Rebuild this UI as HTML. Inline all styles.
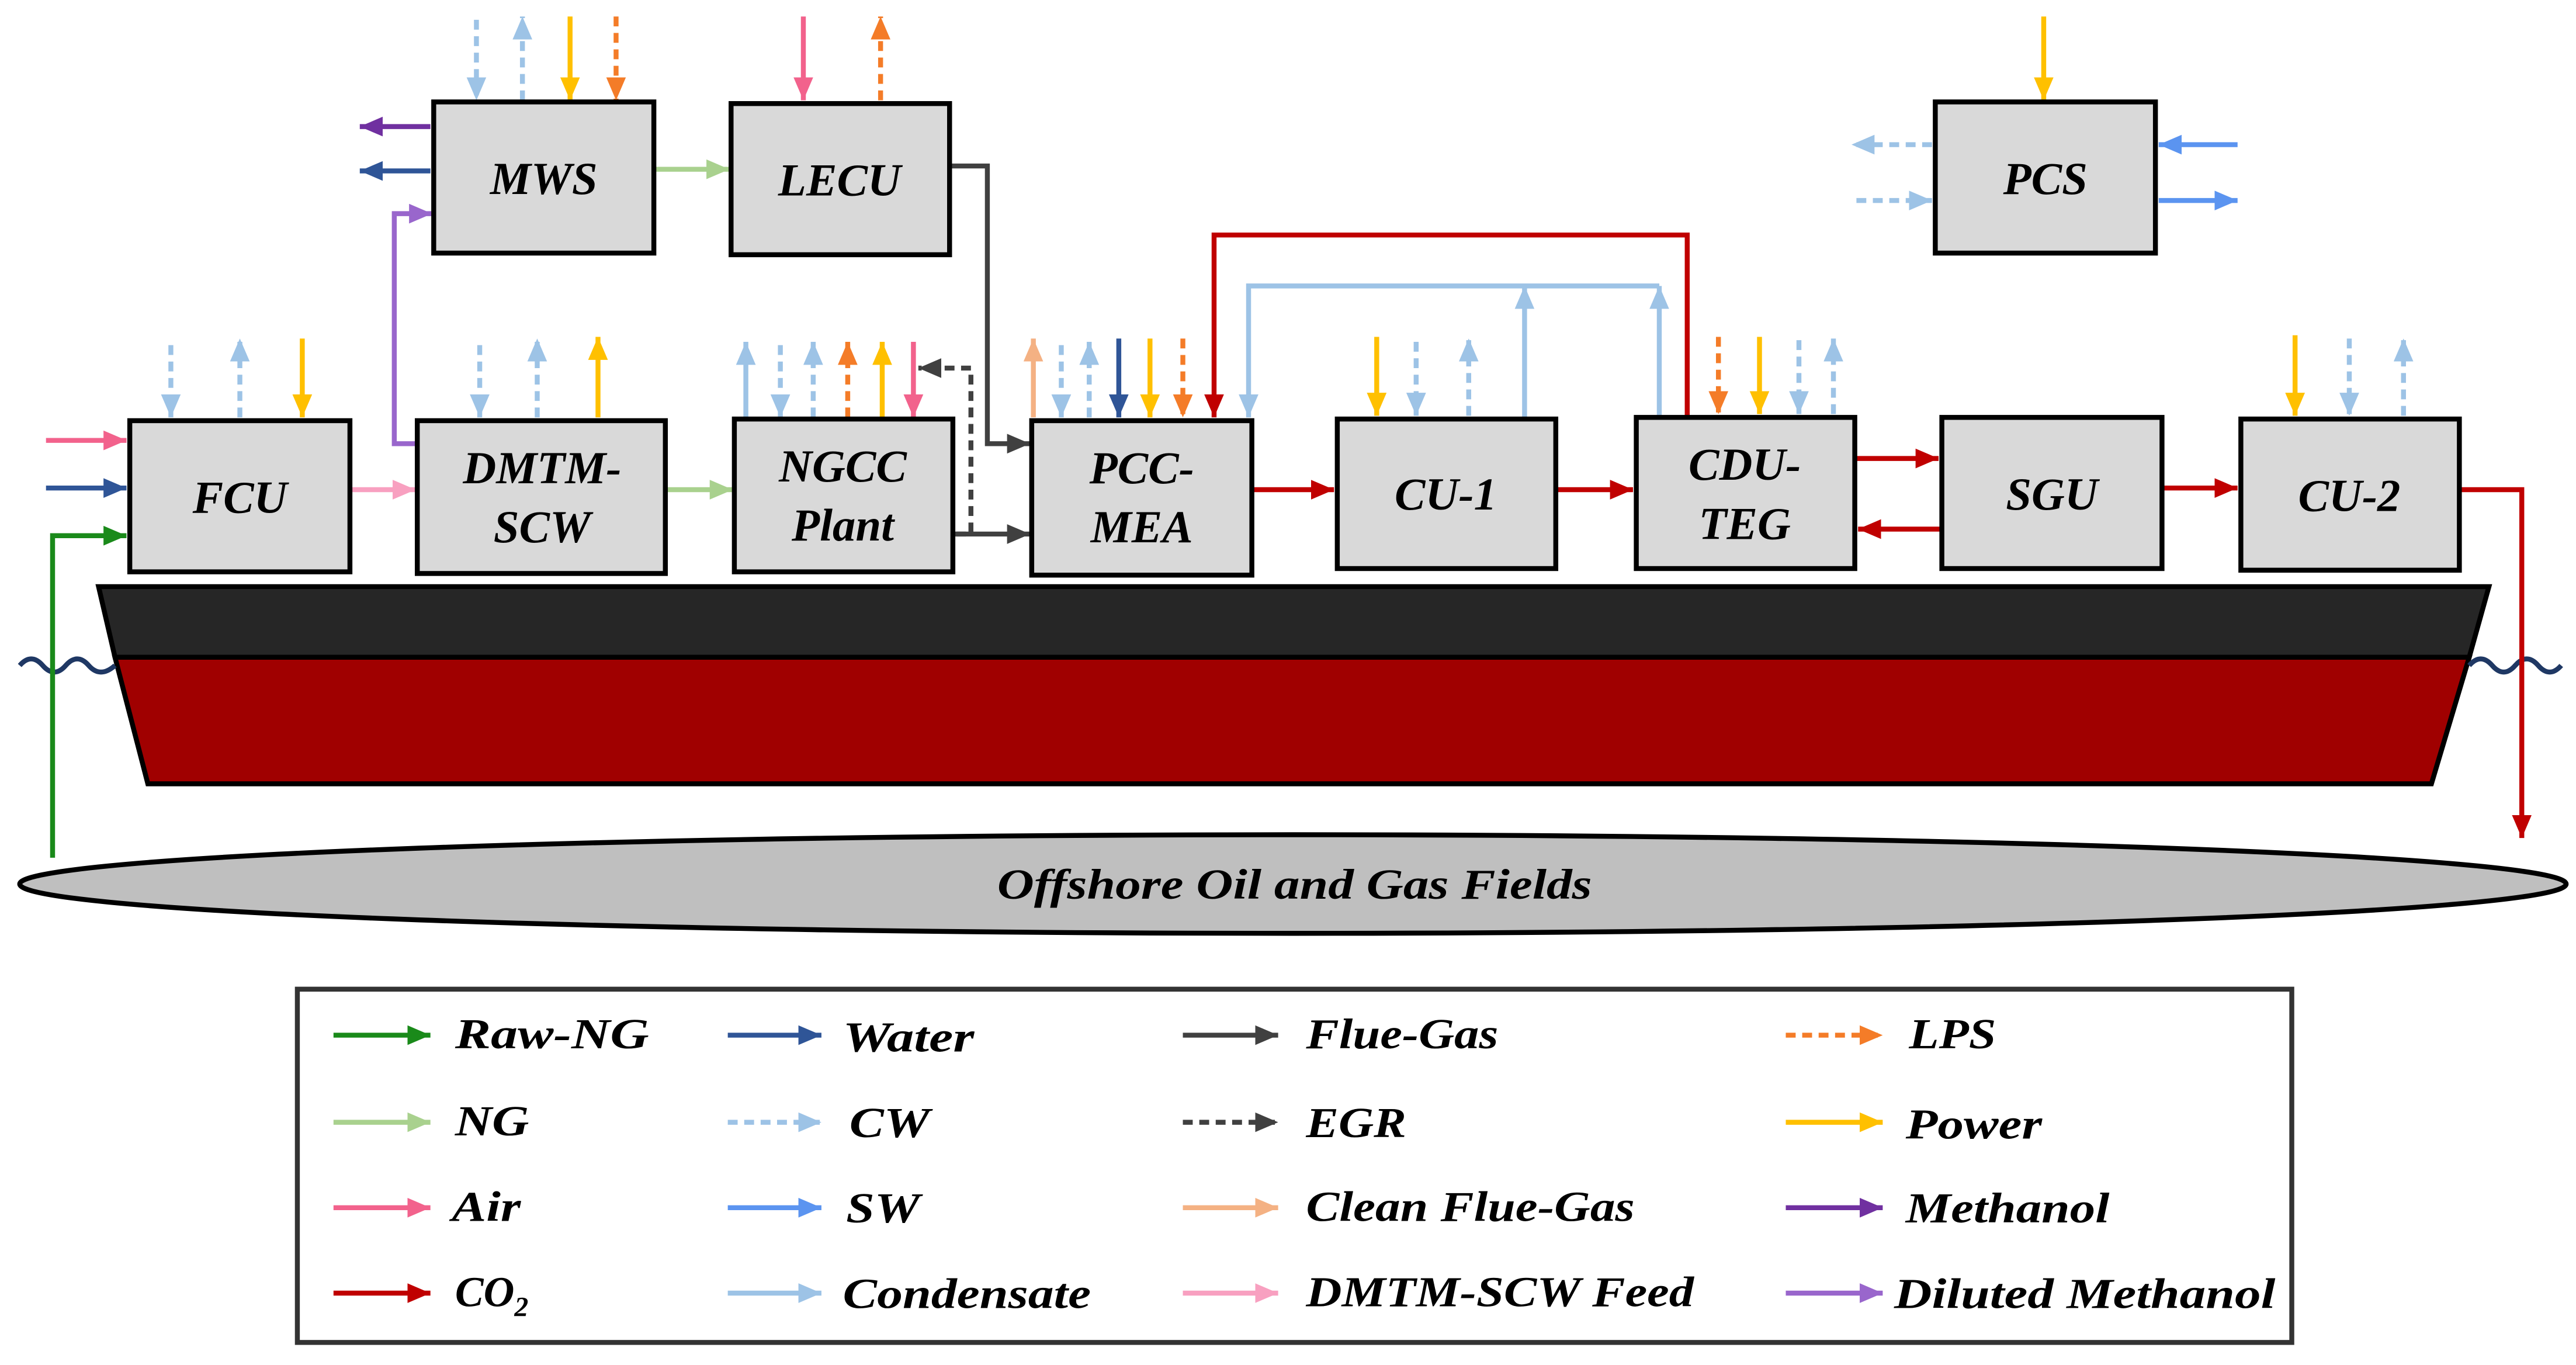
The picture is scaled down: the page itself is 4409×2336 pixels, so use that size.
<!DOCTYPE html>
<html><head><meta charset="utf-8"><style>
html,body{margin:0;padding:0;background:#fff}
svg{display:block}
text{font-family:"Liberation Serif",serif;font-style:italic;font-weight:bold}
.lg text{font-weight:bold}
</style></head><body>
<svg width="4409" height="2336" viewBox="0 0 1568 830.7" xmlns="http://www.w3.org/2000/svg">
<defs>
<marker id="g" viewBox="0 0 14 12" markerWidth="14" markerHeight="12" refX="14" refY="6" orient="auto" markerUnits="userSpaceOnUse"><path d="M0,0L14,6L0,12z" fill="#1a8a1a"/></marker>
<marker id="w" viewBox="0 0 14 12" markerWidth="14" markerHeight="12" refX="14" refY="6" orient="auto" markerUnits="userSpaceOnUse"><path d="M0,0L14,6L0,12z" fill="#2f5597"/></marker>
<marker id="ng" viewBox="0 0 14 12" markerWidth="14" markerHeight="12" refX="14" refY="6" orient="auto" markerUnits="userSpaceOnUse"><path d="M0,0L14,6L0,12z" fill="#a9d18e"/></marker>
<marker id="cw" viewBox="0 0 14 12" markerWidth="14" markerHeight="12" refX="14" refY="6" orient="auto" markerUnits="userSpaceOnUse"><path d="M0,0L14,6L0,12z" fill="#9dc3e6"/></marker>
<marker id="sw" viewBox="0 0 14 12" markerWidth="14" markerHeight="12" refX="14" refY="6" orient="auto" markerUnits="userSpaceOnUse"><path d="M0,0L14,6L0,12z" fill="#5b94f0"/></marker>
<marker id="air" viewBox="0 0 14 12" markerWidth="14" markerHeight="12" refX="14" refY="6" orient="auto" markerUnits="userSpaceOnUse"><path d="M0,0L14,6L0,12z" fill="#f2628c"/></marker>
<marker id="co" viewBox="0 0 14 12" markerWidth="14" markerHeight="12" refX="14" refY="6" orient="auto" markerUnits="userSpaceOnUse"><path d="M0,0L14,6L0,12z" fill="#c00000"/></marker>
<marker id="fg" viewBox="0 0 14 12" markerWidth="14" markerHeight="12" refX="14" refY="6" orient="auto" markerUnits="userSpaceOnUse"><path d="M0,0L14,6L0,12z" fill="#404040"/></marker>
<marker id="cf" viewBox="0 0 14 12" markerWidth="14" markerHeight="12" refX="14" refY="6" orient="auto" markerUnits="userSpaceOnUse"><path d="M0,0L14,6L0,12z" fill="#f4b183"/></marker>
<marker id="df" viewBox="0 0 14 12" markerWidth="14" markerHeight="12" refX="14" refY="6" orient="auto" markerUnits="userSpaceOnUse"><path d="M0,0L14,6L0,12z" fill="#f8a0c0"/></marker>
<marker id="lps" viewBox="0 0 14 12" markerWidth="14" markerHeight="12" refX="14" refY="6" orient="auto" markerUnits="userSpaceOnUse"><path d="M0,0L14,6L0,12z" fill="#f47c28"/></marker>
<marker id="pw" viewBox="0 0 14 12" markerWidth="14" markerHeight="12" refX="14" refY="6" orient="auto" markerUnits="userSpaceOnUse"><path d="M0,0L14,6L0,12z" fill="#ffc000"/></marker>
<marker id="me" viewBox="0 0 14 12" markerWidth="14" markerHeight="12" refX="14" refY="6" orient="auto" markerUnits="userSpaceOnUse"><path d="M0,0L14,6L0,12z" fill="#7030a0"/></marker>
<marker id="dm" viewBox="0 0 14 12" markerWidth="14" markerHeight="12" refX="14" refY="6" orient="auto" markerUnits="userSpaceOnUse"><path d="M0,0L14,6L0,12z" fill="#9966cc"/></marker>
</defs>

<polygon points="60,357 1515,357 1503,400 70,400" fill="#262626" stroke="#000" stroke-width="3"/>
<polygon points="70,400 1503,400 1480,477 90,477" fill="#a00000" stroke="#000" stroke-width="3"/>
<path d="M12,405 q7,-8 14,0 t14,0 t14,0 t16,0" fill="none" stroke="#1f3864" stroke-width="3"/>
<path d="M1503,405 q7,-8 14,0 t14,0 t14,0 t14,0" fill="none" stroke="#1f3864" stroke-width="3"/>
<ellipse cx="787" cy="538" rx="775" ry="30" fill="#bfbfbf" stroke="#000" stroke-width="3"/>
<text x="607" y="547" font-size="26" textLength="362" lengthAdjust="spacingAndGlyphs">Offshore Oil and Gas Fields</text>

<g fill="none" stroke-width="3">
<line x1="104" y1="210" x2="104" y2="254" stroke="#9dc3e6" stroke-dasharray="6,4" marker-end="url(#cw)"/>
<line x1="146" y1="254" x2="146" y2="206" stroke="#9dc3e6" stroke-dasharray="6,4" marker-end="url(#cw)"/>
<line x1="184" y1="206" x2="184" y2="254" stroke="#ffc000" marker-end="url(#pw)"/>
<line x1="28" y1="268" x2="77" y2="268" stroke="#f2628c" marker-end="url(#air)"/>
<line x1="28" y1="297" x2="77" y2="297" stroke="#2f5597" marker-end="url(#w)"/>
<path d="M32,522 V326 H77" stroke="#1a8a1a" marker-end="url(#g)"/>
<line x1="213" y1="298" x2="253" y2="298" stroke="#f8a0c0" marker-end="url(#df)"/>
<line x1="292" y1="210" x2="292" y2="254" stroke="#9dc3e6" stroke-dasharray="6,4" marker-end="url(#cw)"/>
<line x1="327" y1="254" x2="327" y2="206" stroke="#9dc3e6" stroke-dasharray="6,4" marker-end="url(#cw)"/>
<line x1="364" y1="254" x2="364" y2="205" stroke="#ffc000" marker-end="url(#pw)"/>
<path d="M254,270 H240 V130 H263" stroke="#9966cc" marker-end="url(#dm)"/>
<line x1="405" y1="298" x2="446" y2="298" stroke="#a9d18e" marker-end="url(#ng)"/>
<line x1="290" y1="12" x2="290" y2="61" stroke="#9dc3e6" stroke-dasharray="6,4" marker-end="url(#cw)"/>
<line x1="318" y1="61" x2="318" y2="10" stroke="#9dc3e6" stroke-dasharray="6,4" marker-end="url(#cw)"/>
<line x1="347" y1="10" x2="347" y2="61" stroke="#ffc000" marker-end="url(#pw)"/>
<line x1="375" y1="10" x2="375" y2="61" stroke="#f47c28" stroke-dasharray="6,4" marker-end="url(#lps)"/>
<line x1="262" y1="77" x2="219" y2="77" stroke="#7030a0" marker-end="url(#me)"/>
<line x1="262" y1="104" x2="219" y2="104" stroke="#2f5597" marker-end="url(#w)"/>
<line x1="398" y1="103" x2="444" y2="103" stroke="#a9d18e" marker-end="url(#ng)"/>
<line x1="489" y1="10" x2="489" y2="61" stroke="#f2628c" marker-end="url(#air)"/>
<line x1="536" y1="61" x2="536" y2="10" stroke="#f47c28" stroke-dasharray="6,4" marker-end="url(#lps)"/>
<path d="M578,101 H601 V270 H627" stroke="#404040" marker-end="url(#fg)"/>
<line x1="454" y1="254" x2="454" y2="208" stroke="#9dc3e6" marker-end="url(#cw)"/>
<line x1="475" y1="210" x2="475" y2="254" stroke="#9dc3e6" stroke-dasharray="6,4" marker-end="url(#cw)"/>
<line x1="495" y1="254" x2="495" y2="208" stroke="#9dc3e6" stroke-dasharray="6,4" marker-end="url(#cw)"/>
<line x1="516" y1="254" x2="516" y2="208" stroke="#f47c28" stroke-dasharray="6,4" marker-end="url(#lps)"/>
<line x1="537" y1="254" x2="537" y2="208" stroke="#ffc000" marker-end="url(#pw)"/>
<line x1="556" y1="208" x2="556" y2="254" stroke="#f2628c" marker-end="url(#air)"/>
<path d="M582,325 H591 V224 H559" stroke="#404040" stroke-dasharray="6,4" marker-end="url(#fg)"/>
<line x1="580" y1="325" x2="627" y2="325" stroke="#404040" marker-end="url(#fg)"/>
<line x1="629" y1="254" x2="629" y2="206" stroke="#f4b183" marker-end="url(#cf)"/>
<line x1="646" y1="210" x2="646" y2="254" stroke="#9dc3e6" stroke-dasharray="6,4" marker-end="url(#cw)"/>
<line x1="663" y1="254" x2="663" y2="208" stroke="#9dc3e6" stroke-dasharray="6,4" marker-end="url(#cw)"/>
<line x1="681" y1="206" x2="681" y2="254" stroke="#2f5597" marker-end="url(#w)"/>
<line x1="700" y1="206" x2="700" y2="254" stroke="#ffc000" marker-end="url(#pw)"/>
<line x1="720" y1="206" x2="720" y2="254" stroke="#f47c28" stroke-dasharray="6,4" marker-end="url(#lps)"/>
<path d="M1027,254 V143 H739 V254" stroke="#c00000" marker-end="url(#co)"/>
<path d="M1010,174 H760 V254" stroke="#9dc3e6" marker-end="url(#cw)"/>
<line x1="928" y1="254" x2="928" y2="174" stroke="#9dc3e6" marker-end="url(#cw)"/>
<line x1="1010" y1="254" x2="1010" y2="174" stroke="#9dc3e6" marker-end="url(#cw)"/>
<line x1="762" y1="298" x2="812" y2="298" stroke="#c00000" marker-end="url(#co)"/>
<line x1="838" y1="205" x2="838" y2="253" stroke="#ffc000" marker-end="url(#pw)"/>
<line x1="862" y1="208" x2="862" y2="253" stroke="#9dc3e6" stroke-dasharray="6,4" marker-end="url(#cw)"/>
<line x1="894" y1="253" x2="894" y2="206" stroke="#9dc3e6" stroke-dasharray="6,4" marker-end="url(#cw)"/>
<line x1="947" y1="298" x2="994" y2="298" stroke="#c00000" marker-end="url(#co)"/>
<line x1="1046" y1="205" x2="1046" y2="252" stroke="#f47c28" stroke-dasharray="6,4" marker-end="url(#lps)"/>
<line x1="1071" y1="205" x2="1071" y2="252" stroke="#ffc000" marker-end="url(#pw)"/>
<line x1="1095" y1="207" x2="1095" y2="252" stroke="#9dc3e6" stroke-dasharray="6,4" marker-end="url(#cw)"/>
<line x1="1116" y1="252" x2="1116" y2="206" stroke="#9dc3e6" stroke-dasharray="6,4" marker-end="url(#cw)"/>
<line x1="1129" y1="279" x2="1180" y2="279" stroke="#c00000" marker-end="url(#co)"/>
<line x1="1182" y1="322" x2="1131" y2="322" stroke="#c00000" marker-end="url(#co)"/>
<line x1="1316" y1="297" x2="1362" y2="297" stroke="#c00000" marker-end="url(#co)"/>
<line x1="1397" y1="204" x2="1397" y2="253" stroke="#ffc000" marker-end="url(#pw)"/>
<line x1="1430" y1="206" x2="1430" y2="253" stroke="#9dc3e6" stroke-dasharray="6,4" marker-end="url(#cw)"/>
<line x1="1463" y1="253" x2="1463" y2="206" stroke="#9dc3e6" stroke-dasharray="6,4" marker-end="url(#cw)"/>
<path d="M1497,298 H1535 V510" stroke="#c00000" marker-end="url(#co)"/>
<line x1="1244" y1="10" x2="1244" y2="61" stroke="#ffc000" marker-end="url(#pw)"/>
<line x1="1176" y1="88" x2="1127" y2="88" stroke="#9dc3e6" stroke-dasharray="6,4" marker-end="url(#cw)"/>
<line x1="1130" y1="122" x2="1176" y2="122" stroke="#9dc3e6" stroke-dasharray="6,4" marker-end="url(#cw)"/>
<line x1="1362" y1="88" x2="1314" y2="88" stroke="#5b94f0" marker-end="url(#sw)"/>
<line x1="1314" y1="122" x2="1362" y2="122" stroke="#5b94f0" marker-end="url(#sw)"/>
</g>

<g fill="#d9d9d9" stroke="#000" stroke-width="3">
<rect x="79" y="256" width="134" height="92"/>
<rect x="254" y="256" width="151" height="93"/>
<rect x="447" y="255" width="133" height="93"/>
<rect x="628" y="256" width="134" height="94"/>
<rect x="814" y="255" width="133" height="91"/>
<rect x="996" y="254" width="133" height="92"/>
<rect x="1182" y="254" width="134" height="92"/>
<rect x="1364" y="255" width="133" height="92"/>
<rect x="264" y="62" width="134" height="92"/>
<rect x="445" y="63" width="133" height="92"/>
<rect x="1178" y="62" width="134" height="92"/>
</g>
<g font-size="28" text-anchor="middle" fill="#000">
<text x="146" y="312">FCU</text>
<text x="330" y="294">DMTM-</text><text x="330" y="330">SCW</text>
<text x="513" y="293">NGCC</text><text x="513" y="329">Plant</text>
<text x="695" y="294">PCC-</text><text x="695" y="330">MEA</text>
<text x="880" y="310">CU-1</text>
<text x="1062" y="292">CDU-</text><text x="1062" y="328">TEG</text>
<text x="1249" y="310">SGU</text>
<text x="1430" y="311">CU-2</text>
<text x="331" y="118">MWS</text>
<text x="511" y="119">LECU</text>
<text x="1245" y="118">PCS</text>
</g>

<rect x="181" y="602" width="1214" height="215" fill="#fff" stroke="#333" stroke-width="3"/>
<g fill="none" stroke-width="3">
<line x1="203" y1="630" x2="262" y2="630" stroke="#1a8a1a" marker-end="url(#g)"/>
<line x1="203" y1="683" x2="262" y2="683" stroke="#a9d18e" marker-end="url(#ng)"/>
<line x1="203" y1="735" x2="262" y2="735" stroke="#f2628c" marker-end="url(#air)"/>
<line x1="203" y1="787" x2="262" y2="787" stroke="#c00000" marker-end="url(#co)"/>
<line x1="443" y1="630" x2="500" y2="630" stroke="#2f5597" marker-end="url(#w)"/>
<line x1="443" y1="683" x2="500" y2="683" stroke="#9dc3e6" stroke-dasharray="6,4" marker-end="url(#cw)"/>
<line x1="443" y1="735" x2="500" y2="735" stroke="#5b94f0" marker-end="url(#sw)"/>
<line x1="443" y1="787" x2="500" y2="787" stroke="#9dc3e6" marker-end="url(#cw)"/>
<line x1="720" y1="630" x2="778" y2="630" stroke="#404040" marker-end="url(#fg)"/>
<line x1="720" y1="683" x2="778" y2="683" stroke="#404040" stroke-dasharray="6,4" marker-end="url(#fg)"/>
<line x1="720" y1="735" x2="778" y2="735" stroke="#f4b183" marker-end="url(#cf)"/>
<line x1="720" y1="787" x2="778" y2="787" stroke="#f8a0c0" marker-end="url(#df)"/>
<line x1="1087" y1="630" x2="1146" y2="630" stroke="#f47c28" stroke-dasharray="6,4" marker-end="url(#lps)"/>
<line x1="1087" y1="683" x2="1146" y2="683" stroke="#ffc000" marker-end="url(#pw)"/>
<line x1="1087" y1="735" x2="1146" y2="735" stroke="#7030a0" marker-end="url(#me)"/>
<line x1="1087" y1="787" x2="1146" y2="787" stroke="#9966cc" marker-end="url(#dm)"/>
</g>
<g class="lg" font-size="26" fill="#000" lengthAdjust="spacingAndGlyphs">
<text x="277" y="638" textLength="118" lengthAdjust="spacingAndGlyphs">Raw-NG</text>
<text x="277" y="691" textLength="45" lengthAdjust="spacingAndGlyphs">NG</text>
<text x="275" y="743" textLength="42" lengthAdjust="spacingAndGlyphs">Air</text>
<text x="277" y="795">CO<tspan font-size="17" dy="6">2</tspan></text>
<text x="513" y="640" textLength="80" lengthAdjust="spacingAndGlyphs">Water</text>
<text x="517" y="692" textLength="49" lengthAdjust="spacingAndGlyphs">CW</text>
<text x="515" y="744" textLength="45" lengthAdjust="spacingAndGlyphs">SW</text>
<text x="513" y="796" textLength="151" lengthAdjust="spacingAndGlyphs">Condensate</text>
<text x="795" y="638" textLength="117" lengthAdjust="spacingAndGlyphs">Flue-Gas</text>
<text x="795" y="692" textLength="61" lengthAdjust="spacingAndGlyphs">EGR</text>
<text x="795" y="743" textLength="200" lengthAdjust="spacingAndGlyphs">Clean Flue-Gas</text>
<text x="795" y="795" textLength="236" lengthAdjust="spacingAndGlyphs">DMTM-SCW Feed</text>
<text x="1162" y="638" textLength="53" lengthAdjust="spacingAndGlyphs">LPS</text>
<text x="1160" y="693" textLength="83" lengthAdjust="spacingAndGlyphs">Power</text>
<text x="1160" y="744" textLength="124" lengthAdjust="spacingAndGlyphs">Methanol</text>
<text x="1153" y="796" textLength="232" lengthAdjust="spacingAndGlyphs">Diluted Methanol</text>
</g>
</svg>
</body></html>
